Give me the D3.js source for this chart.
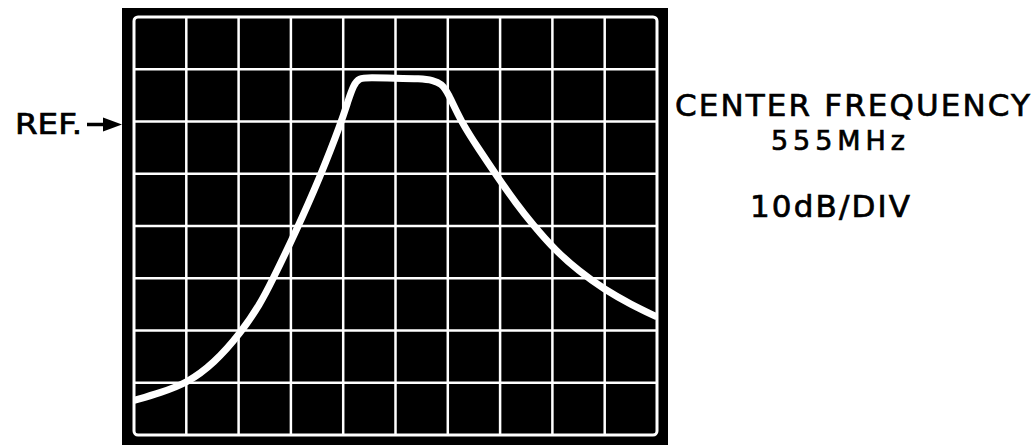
<!DOCTYPE html>
<html>
<head>
<meta charset="utf-8">
<script src="https://cdn.jsdelivr.net/npm/d3@7"></script>
<style>
  body { margin: 0; background: #fff; }
  svg { display: block; }
  text { font-family: "DejaVu Sans", sans-serif; fill: #000; stroke: #000; stroke-width: 0.7; }
</style>
</head>
<body>
<svg width="1032" height="445"></svg>
<script>
// frequency in screen divisions (0..10), level in dB relative to REF
const freqDiv = [0, 0.51, 1.01, 1.53, 2.04, 2.42, 2.62, 3.08, 3.56, 3.97, 4.1, 4.2, 4.3, 4.5, 5.0, 5.47, 5.72, 5.88, 6.0, 6.25, 6.6, 6.95, 7.3, 7.63, 8.05, 8.5, 9.0, 9.5, 10];
const levelDb = [-53.4, -51.9, -50.1, -46.3, -40.5, -34.8, -30.9, -21.4, -10.6, 0, 4.2, 7.0, 8.3, 8.4, 8.3, 8.2, 7.9, 7.2, 5.6, 0, -5.4, -10.6, -15.6, -19.8, -24.6, -28.6, -32.2, -35.0, -37.4];

const xTicks = [0, 1, 2, 3, 4, 5, 6, 7, 8, 9, 10];
const dbTicks = [20, 10, 0, -10, -20, -30, -40, -50, -60];

const notes = ['CENTER FREQUENCY', '555MHz', '10dB/DIV'];

const svg = d3.select('svg');

const x = d3.scaleLinear().domain([0, 10]).range([134, 657]);
const y = d3.scaleLinear().domain([20, -60]).range([17, 435]);

// screen bezel
svg.append('rect')
  .attr('x', 122).attr('y', 8)
  .attr('width', 546).attr('height', 440)
  .attr('fill', '#000');

// graticule
const grid = svg.append('g').attr('class', 'grid')
  .attr('stroke', '#fff').attr('stroke-width', 2.5);

grid.selectAll('line.v')
  .data(xTicks.slice(1, -1))
  .join('line')
  .attr('class', 'v')
  .attr('x1', d => x(d)).attr('x2', d => x(d))
  .attr('y1', y(20)).attr('y2', y(-60));

grid.selectAll('line.h')
  .data(dbTicks.slice(1, -1))
  .join('line')
  .attr('class', 'h')
  .attr('x1', x(0)).attr('x2', x(10))
  .attr('y1', d => y(d)).attr('y2', d => y(d));

grid.append('rect')
  .attr('x', x(0)).attr('y', y(20))
  .attr('width', x(10) - x(0)).attr('height', y(-60) - y(20))
  .attr('rx', 4)
  .attr('fill', 'none')
  .attr('stroke-width', 3);

// trace
svg.append('clipPath').attr('id', 'screen')
  .append('rect')
  .attr('x', x(0)).attr('y', y(20))
  .attr('width', x(10) - x(0)).attr('height', y(-60) - y(20));

// basis curve smooths out reading noise like the phosphor trace
const line = d3.line()
  .x(d => x(d[0]))
  .y(d => y(d[1]))
  .curve(d3.curveBasis);

svg.append('path')
  .datum(d3.zip(freqDiv, levelDb))
  .attr('clip-path', 'url(#screen)')
  .attr('d', line)
  .attr('fill', 'none')
  .attr('stroke', '#fff')
  .attr('stroke-width', 7)
  .attr('stroke-linejoin', 'round');

// REF marker
const refY = y(0);
svg.append('text')
  .attr('x', 15).attr('y', refY + 12)
  .attr('font-size', 28)
  .attr('textLength', 67).attr('lengthAdjust', 'spacingAndGlyphs')
  .text('REF.');
svg.append('line')
  .attr('x1', 87).attr('x2', 108)
  .attr('y1', refY + 3).attr('y2', refY + 3)
  .attr('stroke', '#000').attr('stroke-width', 3.5);
svg.append('path')
  .attr('d', `M103,${refY - 4} L122,${refY + 3} L103,${refY + 10} Z`)
  .attr('fill', '#000');

// notes on the right
const notePos = [
  { x: 675, y: 116, size: 31, len: 355 },
  { x: 771, y: 150, size: 27, len: 134 },
  { x: 750, y: 217, size: 31, len: 160 }
];
svg.selectAll('text.note')
  .data(notes)
  .join('text')
  .attr('class', 'note')
  .attr('x', (d, i) => notePos[i].x)
  .attr('y', (d, i) => notePos[i].y)
  .attr('font-size', (d, i) => notePos[i].size)
  .attr('textLength', (d, i) => notePos[i].len)
  .attr('lengthAdjust', 'spacing')
  .text(d => d);
</script>
</body>
</html>
